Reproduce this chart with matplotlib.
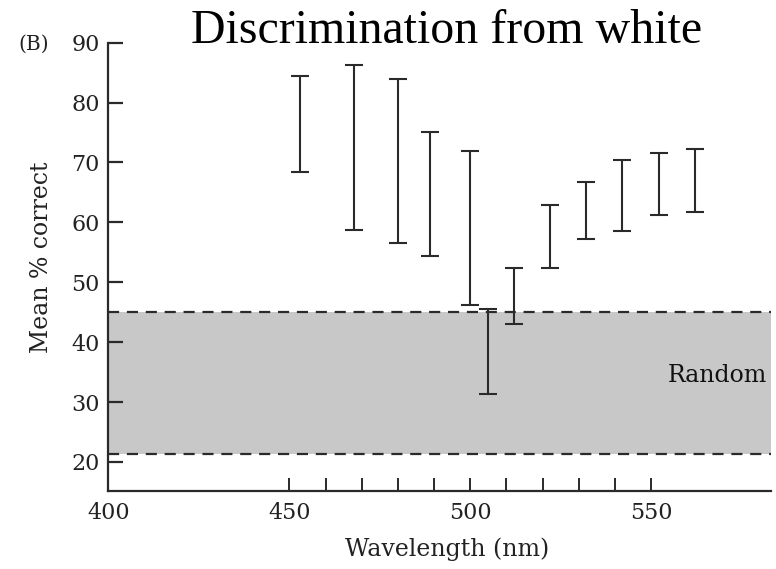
import matplotlib
matplotlib.use("Agg")
import matplotlib.pyplot as plt
import numpy as np

# Data
wavelength = [453, 468, 480, 489, 500, 505, 512, 522, 532, 542, 552, 562]
upper = [84.5, 86.3, 84.0, 75.1, 71.9, 45.6, 52.4, 62.9, 66.8, 70.4, 71.6, 72.2]
lower = [68.4, 58.7, 56.5, 54.4, 46.2, 31.3, 43.0, 52.4, 57.2, 58.6, 61.2, 61.8]
random_low, random_high = 21.3, 45.0
yticks = [20, 30, 40, 50, 60, 70, 80, 90]
xticks_major = [400, 450, 500, 550]
xticks_minor = [460, 470, 480, 490, 510, 520, 530, 540]

serif = ["DejaVu Serif"]
times = ["Liberation Serif", "DejaVu Serif"]
ink = "#2a2a2a"

fig = plt.figure(figsize=(7.76, 5.69), dpi=100)
ax = fig.add_axes([0.1396, 0.1376, 0.9932 - 0.1396, 0.925 - 0.1376])

ax.set_xlim(400, 583)
ax.set_ylim(15.2, 90)

ax.axhspan(random_low, random_high, color="#c8c8c8", zorder=0, lw=0)
for yv in (random_low, random_high):
    ax.axhline(yv, color=ink, lw=1.6, ls=(0, (5, 3.5)), zorder=1)

lo = np.array(lower)
hi = np.array(upper)
mid = (lo + hi) / 2
ax.errorbar(wavelength, mid, yerr=[mid - lo, hi - mid], fmt="none",
            ecolor=ink, elinewidth=1.5, capsize=6.8, capthick=1.5, zorder=3)

ax.text(582, 34.5, "Random", ha="right", va="center", fontsize=17,
        family=serif, color="#111111")

for s in ("top", "right"):
    ax.spines[s].set_visible(False)
for s in ("left", "bottom"):
    ax.spines[s].set_linewidth(1.6)
    ax.spines[s].set_color(ink)

ax.set_yticks(yticks)
ax.set_xticks(xticks_major)
ax.set_xticks(xticks_minor, minor=True)
ax.tick_params(axis="y", direction="in", length=11, width=1.6, color=ink,
               labelsize=16, pad=6)
ax.tick_params(axis="x", which="both", direction="in", length=9.5, width=1.4,
               color=ink, labelsize=16, pad=8)
for lab in ax.get_xticklabels() + ax.get_yticklabels():
    lab.set_family(serif)
    lab.set_color("#222222")

ax.set_xlabel("Wavelength (nm)", fontsize=17, family=serif, color="#222222")
ax.set_ylabel("Mean % correct", fontsize=17, family=serif, color="#222222")
ax.xaxis.set_label_coords(0.512, -0.105)
ax.yaxis.set_label_coords(-0.083, 0.52)

fig.text(0.576, 0.945, "Discrimination from white", ha="center", va="center",
         fontsize=34.5, family=times, color="black")
fig.text(0.044, 0.922, "(B)", ha="center", va="center", fontsize=14.5,
         family=serif, color="#222222")

fig.savefig("out.png", dpi=100)
